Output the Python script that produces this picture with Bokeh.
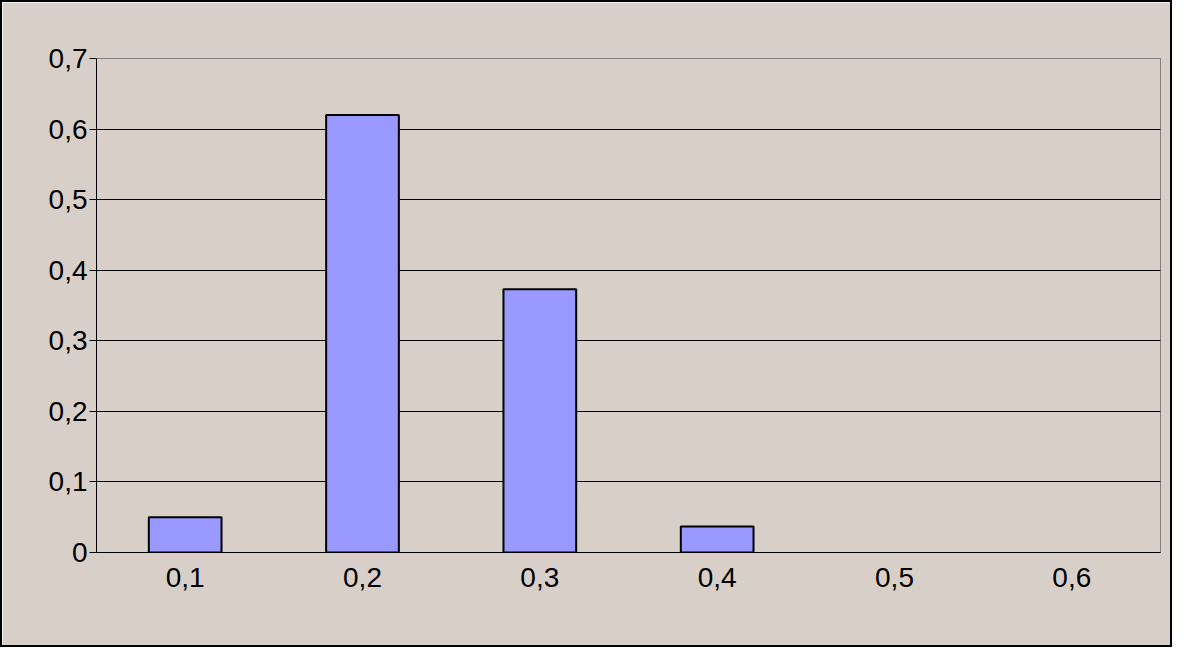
from bokeh.plotting import figure
from bokeh.models import FixedTicker
from bokeh.embed import file_html
from bokeh.resources import INLINE

categories = ['0,1', '0,2', '0,3', '0,4', '0,5', '0,6']
values = [0.05, 0.62, 0.373, 0.037, 0.0, 0.0]
y_ticks = [0, 0.1, 0.2, 0.3, 0.4, 0.5, 0.6, 0.7]
y_labels = ['0', '0,1', '0,2', '0,3', '0,4', '0,5', '0,6', '0,7']

bg = '#d8d0c8'
font = 'Liberation Sans'

p = figure(x_range=categories, y_range=(0, 0.7), width=1172, height=647,
	output_backend='svg', toolbar_location=None,
	min_border_left=94, min_border_right=14, min_border_top=56, min_border_bottom=97)
p.styles = {'border': '2px solid black', 'box-sizing': 'border-box'}
p.background_fill_color = bg
p.border_fill_color = bg
p.outline_line_color = '#808080'
p.outline_line_width = 1

# no outline for empty bars
edge_alpha = [1.0 if v > 0 else 0.0 for v in values]
p.vbar(x=categories, top=values, width=0.41, fill_color='#9999ff',
	line_color='black', line_width=2, line_alpha=edge_alpha)

p.xgrid.grid_line_color = None
p.ygrid.grid_line_color = 'black'
p.ygrid.ticker = FixedTicker(ticks=y_ticks)
p.yaxis.ticker = FixedTicker(ticks=y_ticks)
p.yaxis.major_label_overrides = {t: l for t, l in zip(y_ticks, y_labels)}

for ax in (p.xaxis, p.yaxis):
	ax.axis_line_color = 'black'
	ax.major_tick_line_color = 'black'
	ax.minor_tick_line_color = None
	ax.major_tick_in = 0
	ax.major_tick_out = 7
	ax.major_label_text_font = font
	ax.major_label_text_font_size = '28px'
	ax.major_label_text_color = 'black'
p.xaxis.major_tick_line_color = None
p.xaxis.major_label_standoff = 8
p.yaxis.major_label_standoff = 2
p.x_range.range_padding = 0

open("out.html", "w").write(file_html(p, INLINE))
